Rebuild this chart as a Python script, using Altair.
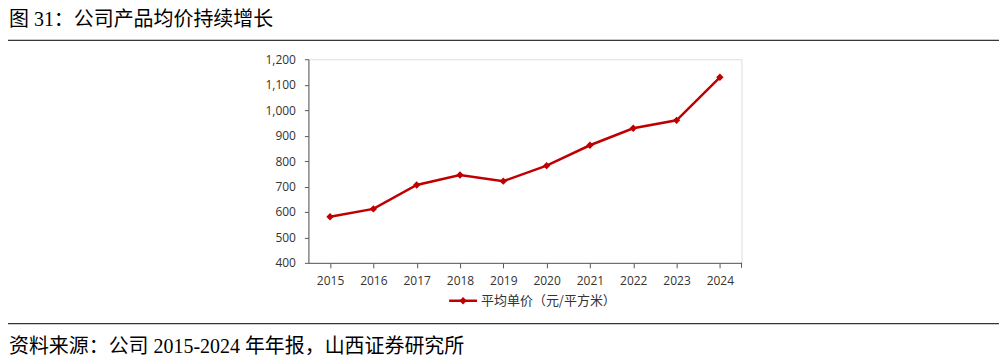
import altair as alt
import pandas as pd

years = ["2015", "2016", "2017", "2018", "2019", "2020", "2021", "2022", "2023", "2024"]
prices = [581, 612, 706, 745, 721, 782, 862, 929, 960, 1129]
series_name = "平均单价（元/平方米）"
title_text = "图 31：公司产品均价持续增长"
source_text = "资料来源：公司 2015-2024 年年报，山西证券研究所"
y_ticks = [400, 500, 600, 700, 800, 900, 1000, 1100, 1200]

df = pd.DataFrame({"year": years, "price": prices})

W, H = 434, 204
RED = "#C00000"
AX = "#595959"
LBL = "#333333"
CJK = "Liberation Serif, Noto Sans CJK SC"

xenc = alt.X("year:O", scale=alt.Scale(paddingInner=0, paddingOuter=0),
             axis=alt.Axis(title=None, bandPosition=0, labelAngle=0, labelFontSize=12,
                           labelColor=LBL, labelFont="Open Sans", labelPadding=8,
                           tickSize=5, tickColor=AX, domainColor=AX, labelFlush=False))
yenc = alt.Y("price:Q", scale=alt.Scale(domain=[400, 1200], nice=False, zero=False),
             axis=alt.Axis(title=None, values=y_ticks, format=",.0f",
                           labelFontSize=12, labelColor=LBL, labelFont="Open Sans",
                           labelOverlap=False, tickSize=4, tickColor=AX, domainColor=AX,
                           grid=False, labelPadding=9))

base = alt.Chart(df).encode(x=xenc, y=yenc)
line = base.mark_line(color=RED, strokeWidth=2.5)
pts = base.mark_point(shape="diamond", filled=True, color=RED, size=55, opacity=1)

one = pd.DataFrame({"k": [0]})
deco = alt.Chart(one)

end_tick = deco.mark_rule(color=AX).encode(x=alt.value(W), y=alt.value(H), y2=alt.value(H + 5))

leg_line = deco.mark_rule(color=RED, strokeWidth=2.5).encode(
    x=alt.value(141), x2=alt.value(169), y=alt.value(H + 38))
leg_pt = deco.mark_point(shape="diamond", filled=True, color=RED, size=55, opacity=1).encode(
    x=alt.value(155), y=alt.value(H + 38))
leg_txt = deco.mark_text(align="left", baseline="middle", fontSize=13, color=LBL,
                         font="Noto Sans CJK SC").encode(
    x=alt.value(173), y=alt.value(H + 38), text=alt.value(series_name))

title = deco.mark_text(align="left", baseline="top", fontSize=20, color="#000000",
                       font=CJK).encode(x=alt.value(-300), y=alt.value(-49), text=alt.value(title_text))
top_rule = deco.mark_rule(color="#000000", strokeWidth=1).encode(
    x=alt.value(-307), x2=alt.value(692), y=alt.value(-19))
bot_rule = deco.mark_rule(color="#000000", strokeWidth=1).encode(
    x=alt.value(-307), x2=alt.value(692), y=alt.value(H + 61))
source = deco.mark_text(align="left", baseline="middle", fontSize=20, color="#000000",
                        font=CJK).encode(x=alt.value(-300), y=alt.value(H + 84), text=alt.value(source_text))

chart = alt.layer(line, pts, end_tick, leg_line, leg_pt, leg_txt, title, top_rule, bot_rule, source).properties(
    width=W, height=H,
    autosize=alt.AutoSizeParams(type="none"),
    padding={"left": 301, "top": 51, "right": 258, "bottom": 95},
).configure_view(stroke=None).configure(background="white")

chart.save("out.html", embed_options={"renderer": "svg", "actions": False})
